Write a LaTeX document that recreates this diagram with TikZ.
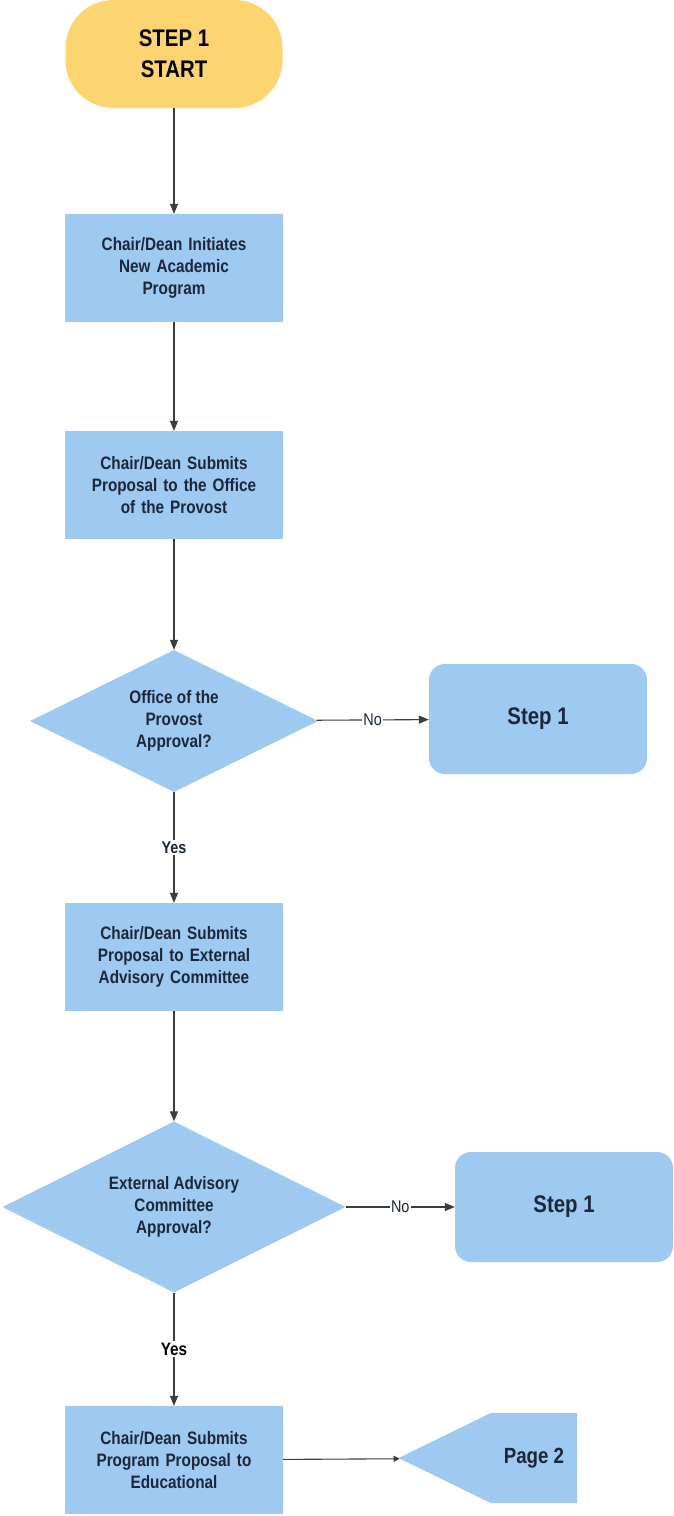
\documentclass[tikz,border=0pt]{standalone}
\usepackage{fontspec}
\setmainfont{Liberation Sans}[FakeStretch=0.85]
\usetikzlibrary{shapes.geometric,shapes.symbols,arrows.meta,positioning}
\definecolor{boxblue}{RGB}{158,201,240}
\definecolor{startyellow}{RGB}{252,213,112}
\definecolor{inkblue}{RGB}{28,40,58}
\definecolor{linegray}{RGB}{60,60,60}
\tikzset{
  process/.style={rectangle,fill=boxblue,minimum width=218pt,minimum height=108pt,
    text width=210pt,align=center,text=inkblue,font=\bfseries\fontsize{18}{22}\selectfont},
  decision/.style={diamond,aspect=2,fill=boxblue,inner sep=0pt,align=center,text=inkblue,
    font=\bfseries\fontsize{18}{22}\selectfont},
  backstep/.style={rectangle,rounded corners=16pt,fill=boxblue,minimum width=218pt,
    minimum height=110pt,text=inkblue,font=\bfseries\fontsize{24}{28}\selectfont},
  flow/.style={draw=linegray,line width=1.1pt,-{Triangle[length=10pt,width=8pt]}},
  answer/.style={fill=white,inner sep=1.5pt,text=inkblue,font=\fontsize{17}{20}\selectfont}
}
\begin{document}
\begin{tikzpicture}[x=1pt,y=-1pt]
  \useasboundingbox[fill=white] (0,0) rectangle (673,1516);
  % main column
  \node[rectangle,rounded corners=48pt,fill=startyellow,minimum width=217pt,minimum height=108pt,
    align=center,font=\bfseries\fontsize{24}{31}\selectfont] (start) at (174,54) {STEP 1\\START};
  \node[process] (initiate) at (174,268) {Chair/Dean Initiates\\New Academic\\Program};
  \node[process] (provost) at (174,485) {Chair/Dean Submits\\Proposal to the Office\\of the Provost};
  \node[decision,minimum width=288pt,minimum height=142pt] (okprovost) at (174,721)
    {Office of the\\Provost\\Approval?};
  \node[process] (external) at (174,957) {Chair/Dean Submits\\Proposal to External\\Advisory Committee};
  \node[decision,minimum width=343pt,minimum height=171pt] (okexternal) at (174,1207)
    {External Advisory\\Committee\\Approval?};
  \node[process] (educational) at (174,1460) {Chair/Dean Submits\\Program Proposal to\\Educational};
  % side boxes
  \node[backstep] (backA) at (538,719) {Step 1};
  \node[backstep] (backB) at (564,1207) {Step 1};
  \node[signal,signal to=west,signal from=nowhere,signal pointer angle=52,fill=boxblue,
    minimum width=164pt,minimum height=90pt,inner xsep=13pt,text=inkblue,
    font=\bfseries\fontsize{22}{24}\selectfont] (page2) at (534,1458) {Page 2};
  % connectors
  \draw[flow] (start) -- (initiate);
  \draw[flow] (initiate) -- (provost);
  \draw[flow] (provost) -- (okprovost);
  \draw[flow] (okprovost) -- node[answer,font=\bfseries\fontsize{17}{20}\selectfont] {Yes} (external);
  \draw[flow] (okprovost) -- node[answer] {No} (backA);
  \draw[flow] (external) -- (okexternal);
  \draw[flow] (okexternal) -- node[answer,text=black,font=\bfseries\fontsize{18}{20}\selectfont] {Yes} (educational);
  \draw[flow] (okexternal) -- node[answer] {No} (backB);
  \draw[flow,-{Triangle[length=6pt,width=6pt]}] (educational) -- (page2);
\end{tikzpicture}
\end{document}
